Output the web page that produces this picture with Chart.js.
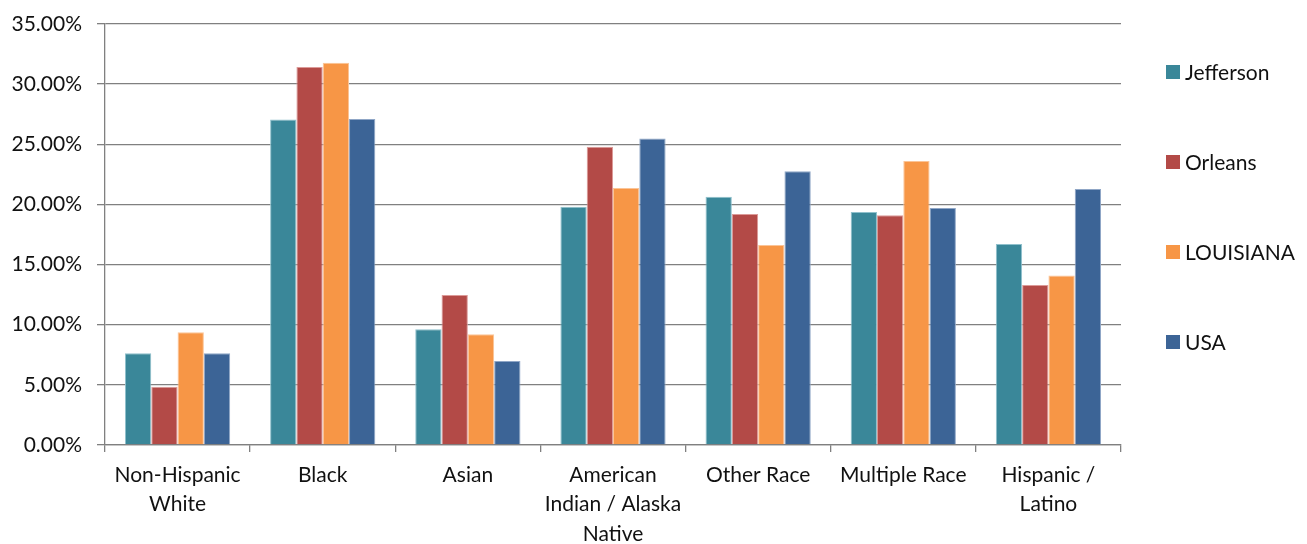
<!DOCTYPE html>
<html lang="en">
  <head>
    <meta charset="UTF-8" />
    <title>Race by area</title>
    <script src="https://cdn.jsdelivr.net/npm/chart.js"></script>
    <style>
      html, body { margin: 0; padding: 0; background: #fff; }
      .wrap { position: relative; width: 1307px; height: 544px; }
      #legend {
        position: absolute; left: 1166px; top: 0;
        font-family: Lato, "Open Sans", sans-serif; font-size: 21px; color: #111;
      }
      #legend div { position: absolute; white-space: nowrap; display: flex; align-items: center; line-height: 22px; }
      #legend span.box { display: inline-block; width: 14px; height: 14px; margin-right: 5px; }
    </style>
  </head>
  <body>
    <div class="wrap">
      <canvas id="chart-area" width="1307" height="544"></canvas>
      <div id="legend"></div>
    </div>

    <script>
      const categories = [
        ["Non-Hispanic", "White"],
        ["Black"],
        ["Asian"],
        ["American", "Indian / Alaska", "Native"],
        ["Other Race"],
        ["Multiple Race"],
        ["Hispanic /", "Latino"],
      ];

      const seriesNames = ["Jefferson", "Orleans", "LOUISIANA", "USA"];

      // percent values
      const jefferson = [7.62, 27.07, 9.62, 19.81, 20.64, 19.37, 16.71];
      const orleans = [4.85, 31.42, 12.47, 24.8, 19.2, 19.09, 13.3];
      const louisiana = [9.37, 31.78, 9.2, 21.36, 16.63, 23.61, 14.1];
      const usa = [7.62, 27.1, 6.98, 25.49, 22.75, 19.7, 21.28];

      const colors = ["#3a8799", "#b34a47", "#f79646", "#3c6496"];
      const edges = ["#8fc0cc", "#dc9a98", "#fbc497", "#8fa6c6"];

      const allValues = [jefferson, orleans, louisiana, usa];

      const ctx = document.getElementById("chart-area").getContext("2d");
      const axisGray = "#808080";
      const yFont = { family: "Lato, 'Open Sans', sans-serif", size: 21 };
      const xFont = { family: "Lato, 'Open Sans', sans-serif", size: 21, lineHeight: 1.42 };

      const chart = new Chart(ctx, {
        type: "bar",
        data: {
          labels: categories,
          datasets: seriesNames.map((name, i) => ({
            label: name,
            data: allValues[i],
            backgroundColor: colors[i],
            borderColor: edges[i],
            borderWidth: 1,
            categoryPercentage: 0.725,
            barPercentage: 1,
          })),
        },
        options: {
          responsive: false,
          animation: false,
          layout: { padding: { top: 24, right: 186, left: 0, bottom: 0 } },
          plugins: { legend: { display: false }, tooltip: { enabled: false } },
          scales: {
            x: {
              grid: {
                offset: true,
                drawOnChartArea: false,
                tickLength: 7,
                color: axisGray,
                lineWidth: 1.3,
              },
              border: { color: axisGray, width: 1.3 },
              ticks: { font: xFont, color: "#111", padding: 8, maxRotation: 0, autoSkip: false },
              afterFit: (s) => { s.height = 99; },
            },
            y: {
              min: 0,
              max: 35,
              ticks: {
                stepSize: 5,
                font: yFont,
                color: "#111",
                padding: 15,
                callback: (v) => v.toFixed(2) + "%",
              },
              grid: { color: axisGray, tickLength: 8, lineWidth: 1.3 },
              border: { color: axisGray, width: 1.3 },
              afterFit: (s) => {
                s.width = 105;
                s.paddingTop = 0;
                s.paddingBottom = 0;
              },
            },
          },
        },
      });

      // legend on the right, items spaced evenly down the side
      const legend = document.getElementById("legend");
      chart.data.datasets.forEach((ds, i) => {
        const item = document.createElement("div");
        item.style.top = 61 + i * 90 + "px";
        const box = document.createElement("span");
        box.className = "box";
        box.style.background = ds.backgroundColor;
        item.appendChild(box);
        item.appendChild(document.createTextNode(ds.label));
        legend.appendChild(item);
      });
    </script>
  </body>
</html>
